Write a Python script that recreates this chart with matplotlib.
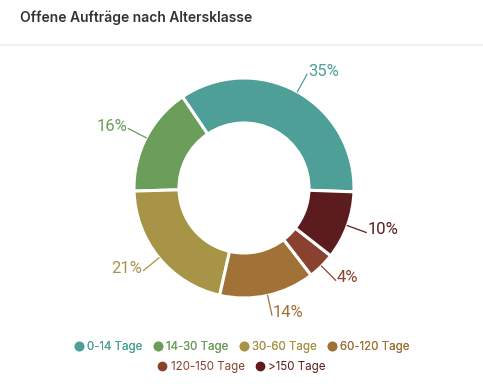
import numpy as np
import matplotlib.pyplot as plt
from matplotlib.lines import Line2D

categories = ["0-14 Tage", "14-30 Tage", "30-60 Tage", "60-120 Tage", "120-150 Tage", ">150 Tage"]
values = [35, 16, 21, 14, 4, 10]
colors = ["#4E9F98", "#6A9E5A", "#A89446", "#A07236", "#8B412F", "#5C1C1E"]
title = "Offene Aufträge nach Altersklasse"

W, H = 483, 392
fig = plt.figure(figsize=(W / 100, H / 100), dpi=100)
fig.patch.set_facecolor("white")

# title and separator
fig.text(20 / W, 1 - 18 / H, title, fontsize=10, fontweight="semibold",
         color="#333333", family=["Inter", "DejaVu Sans"], va="center", ha="left")
fig.add_artist(Line2D([0, 1], [1 - 45 / H, 1 - 45 / H], color="#EEEEEE", lw=1.2,
                      transform=fig.transFigure))

# pie axes: center (244,188) px, 100 px per data unit
cx, cy = 244, 188
half = 150
ax = fig.add_axes([(cx - half) / W, (H - cy - half) / H, 2 * half / W, 2 * half / H])

R = 1.10
wedges, _ = ax.pie(values, colors=colors, startangle=-2, counterclock=True, radius=R,
                   wedgeprops=dict(width=0.45, edgecolor="white", linewidth=2.2))
ax.set_xlim(-1.5, 1.5)
ax.set_ylim(-1.5, 1.5)
ax.set_aspect("equal")
ax.axis("off")

for w, v, c in zip(wedges, values, colors):
    ang = np.deg2rad((w.theta1 + w.theta2) / 2)
    x0, y0 = R * np.cos(ang), R * np.sin(ang)
    x1, y1 = (R + 0.2) * np.cos(ang), (R + 0.2) * np.sin(ang)
    ax.plot([x0, x1], [y0, y1], color=c, lw=0.9)
    ha = "left" if np.cos(ang) >= 0 else "right"
    ax.text(x1 + (0.01 if ha == "left" else -0.01), y1 - 0.02, f"{v}%", color=c,
            fontsize=12, ha=ha, va="baseline",
            family=["Roboto", "DejaVu Sans"], fontweight="normal")

# legend
handles = [Line2D([], [], marker="o", linestyle="", markersize=6, markerfacecolor=c,
                  markeredgecolor=c) for c in colors]
lprop = dict(family=["Inter", "DejaVu Sans"], size=8.3, weight="normal")
leg1 = fig.legend(handles[:4], categories[:4], loc="center", bbox_to_anchor=(0.5, 1 - 347 / H),
                  ncol=4, frameon=False, handletextpad=0.25, columnspacing=0.9,
                  handlelength=0.9, prop=lprop)
leg2 = fig.legend(handles[4:], categories[4:], loc="center", bbox_to_anchor=(0.5, 1 - 367 / H),
                  ncol=2, frameon=False, handletextpad=0.25, columnspacing=0.9,
                  handlelength=0.9, prop=lprop)
for leg, cs in ((leg1, colors[:4]), (leg2, colors[4:])):
    for t, c in zip(leg.get_texts(), cs):
        t.set_color(c)
fig.add_artist(leg1)

fig.savefig("out.png", dpi=100, facecolor="white")
